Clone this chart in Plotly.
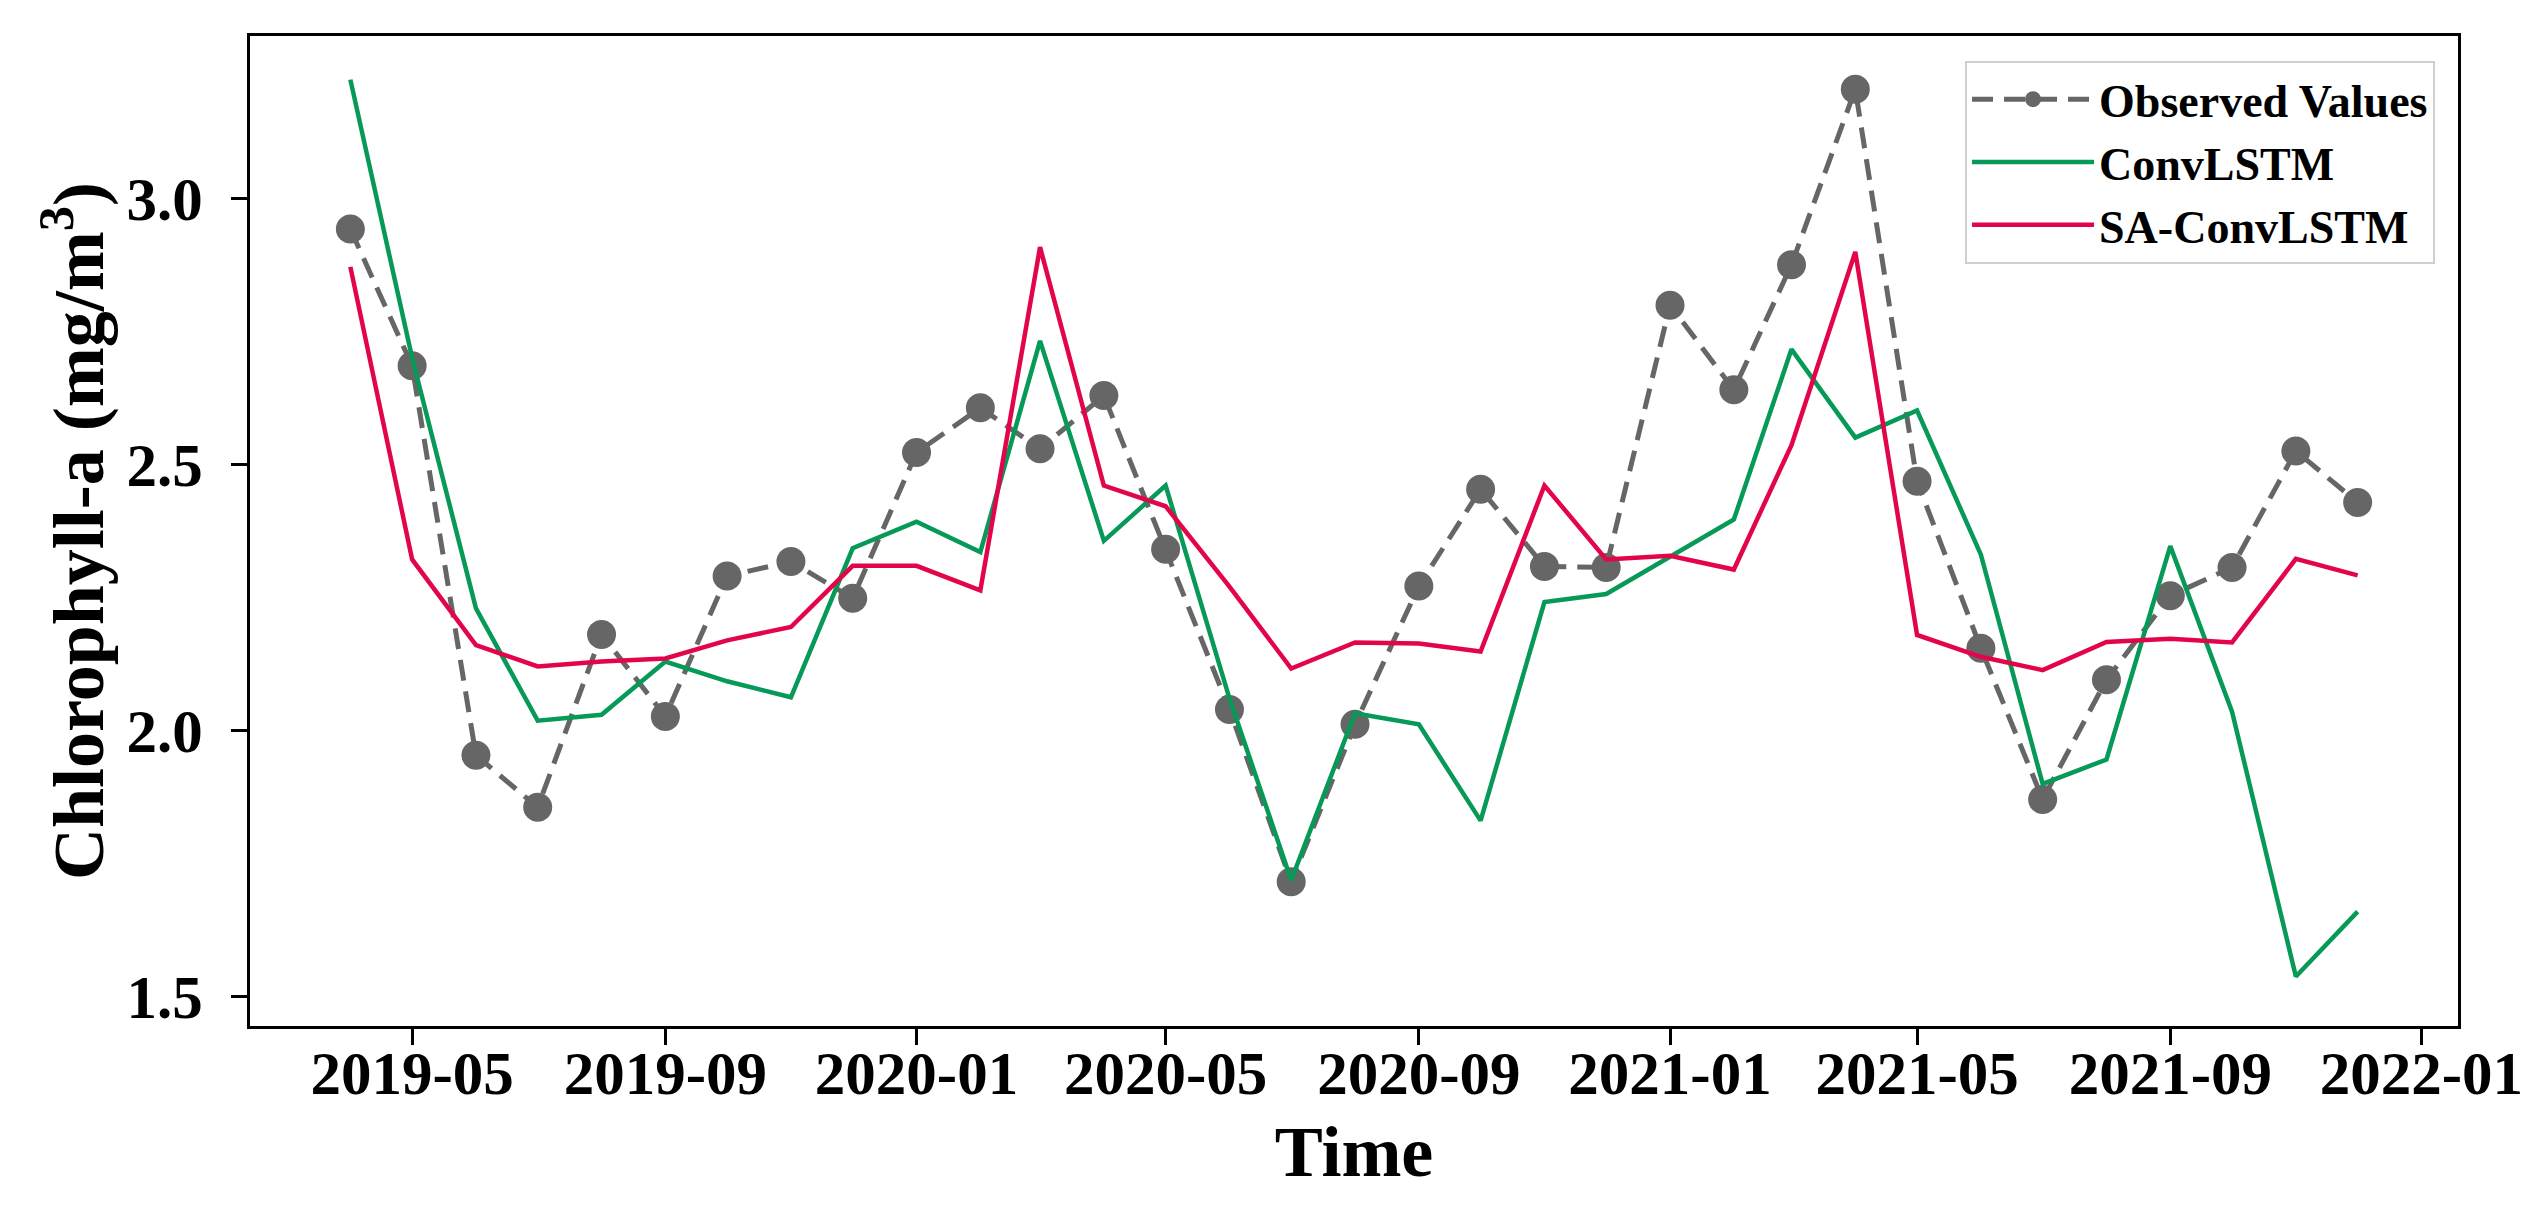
import plotly.graph_objects as go

months = [
    "2019-04", "2019-05", "2019-06", "2019-07", "2019-08", "2019-09", "2019-10", "2019-11", "2019-12",
    "2020-01", "2020-02", "2020-03", "2020-04", "2020-05", "2020-06", "2020-07", "2020-08", "2020-09",
    "2020-10", "2020-11", "2020-12", "2021-01", "2021-02", "2021-03", "2021-04", "2021-05", "2021-06",
    "2021-07", "2021-08", "2021-09", "2021-10", "2021-11", "2021-12",
]

observed = [
    2.942, 2.685, 1.953, 1.855, 2.180, 2.026, 2.290, 2.317, 2.248,
    2.522, 2.606, 2.529, 2.629, 2.340, 2.039, 1.715, 2.011, 2.271,
    2.453, 2.308, 2.306, 2.799, 2.640, 2.875, 3.205, 2.468, 2.154,
    1.870, 2.095, 2.253, 2.306, 2.525, 2.428,
]

convlstm = [
    3.223, 2.700, 2.229, 2.018, 2.029, 2.129, 2.092, 2.062, 2.342,
    2.392, 2.335, 2.732, 2.356, 2.460, 2.060, 1.718, 2.032, 2.011,
    1.830, 2.241, 2.256, 2.327, 2.396, 2.716, 2.550, 2.601, 2.330,
    1.899, 1.945, 2.346, 2.035, 1.537, 1.659,
]

sa_convlstm = [
    2.871, 2.321, 2.160, 2.120, 2.129, 2.135, 2.169, 2.194, 2.309,
    2.309, 2.263, 2.908, 2.460, 2.421, 2.270, 2.116, 2.165, 2.163,
    2.148, 2.460, 2.321, 2.328, 2.302, 2.536, 2.899, 2.179, 2.138,
    2.113, 2.166, 2.172, 2.165, 2.322, 2.291,
]

x_tick_labels = ["2019-05", "2019-09", "2020-01", "2020-05", "2020-09",
                 "2021-01", "2021-05", "2021-09", "2022-01"]
y_tick_values = [1.5, 2.0, 2.5, 3.0]

series_names = ["Observed Values", "ConvLSTM", "SA-ConvLSTM"]

dates = [m + "-01" for m in months]
FONT = "Liberation Serif, Times New Roman, serif"

fig = go.Figure()
fig.add_trace(go.Scatter(
    x=dates, y=observed, name=series_names[0], mode="lines+markers",
    line=dict(color="#666666", width=5, dash="21px,11px"),
    marker=dict(color="#666666", size=29),
))
fig.add_trace(go.Scatter(
    x=dates, y=convlstm, name=series_names[1], mode="lines",
    line=dict(color="#079957", width=4.5),
))
fig.add_trace(go.Scatter(
    x=dates, y=sa_convlstm, name=series_names[2], mode="lines",
    line=dict(color="#e3054a", width=4.5),
))

# page body has an 8px margin, so the figure is offset by 8px
fig.update_layout(
    width=2532, height=1214,
    margin=dict(l=242, r=82, t=28, b=196, autoexpand=False),
    paper_bgcolor="white", plot_bgcolor="white",
    font=dict(family=FONT, color="black", weight="bold"),
    showlegend=True,
    legend=dict(
        x=0.9896, y=0.975, xanchor="right", yanchor="top",
        bgcolor="rgba(255,255,255,0.85)", bordercolor="#cfcfcf", borderwidth=2,
        font=dict(family=FONT, size=46, color="black", weight="bold"),
        itemwidth=122,
    ),
)

fig.update_xaxes(
    range=["2019-02-11 06:00", "2022-01-18 18:00"],
    tickvals=[t + "-01" for t in x_tick_labels], ticktext=x_tick_labels,
    showline=True, linecolor="black", linewidth=3, mirror=True,
    ticks="outside", ticklen=16, tickwidth=3, tickcolor="black",
    ticklabelstandoff=-24,
    showgrid=False, zeroline=False,
    tickfont=dict(family=FONT, size=61, color="black", weight="bold"),
    title=dict(text="Time", standoff=20,
               font=dict(family=FONT, size=72, color="black", weight="bold")),
)
fig.update_yaxes(
    range=[1.444, 3.305],
    tickvals=y_tick_values, ticktext=[f"{v:.1f}" for v in y_tick_values],
    showline=True, linecolor="black", linewidth=3, mirror=True,
    ticks="outside", ticklen=16, tickwidth=3, tickcolor="black",
    ticklabelstandoff=16,
    showgrid=False, zeroline=False,
    tickfont=dict(family=FONT, size=61, color="black", weight="bold"),
    title=dict(text="Chlorophyll-a (mg/m<sup>3</sup>)", standoff=0,
               font=dict(family=FONT, size=72, color="black", weight="bold")),
)

fig.write_html("out.html")
